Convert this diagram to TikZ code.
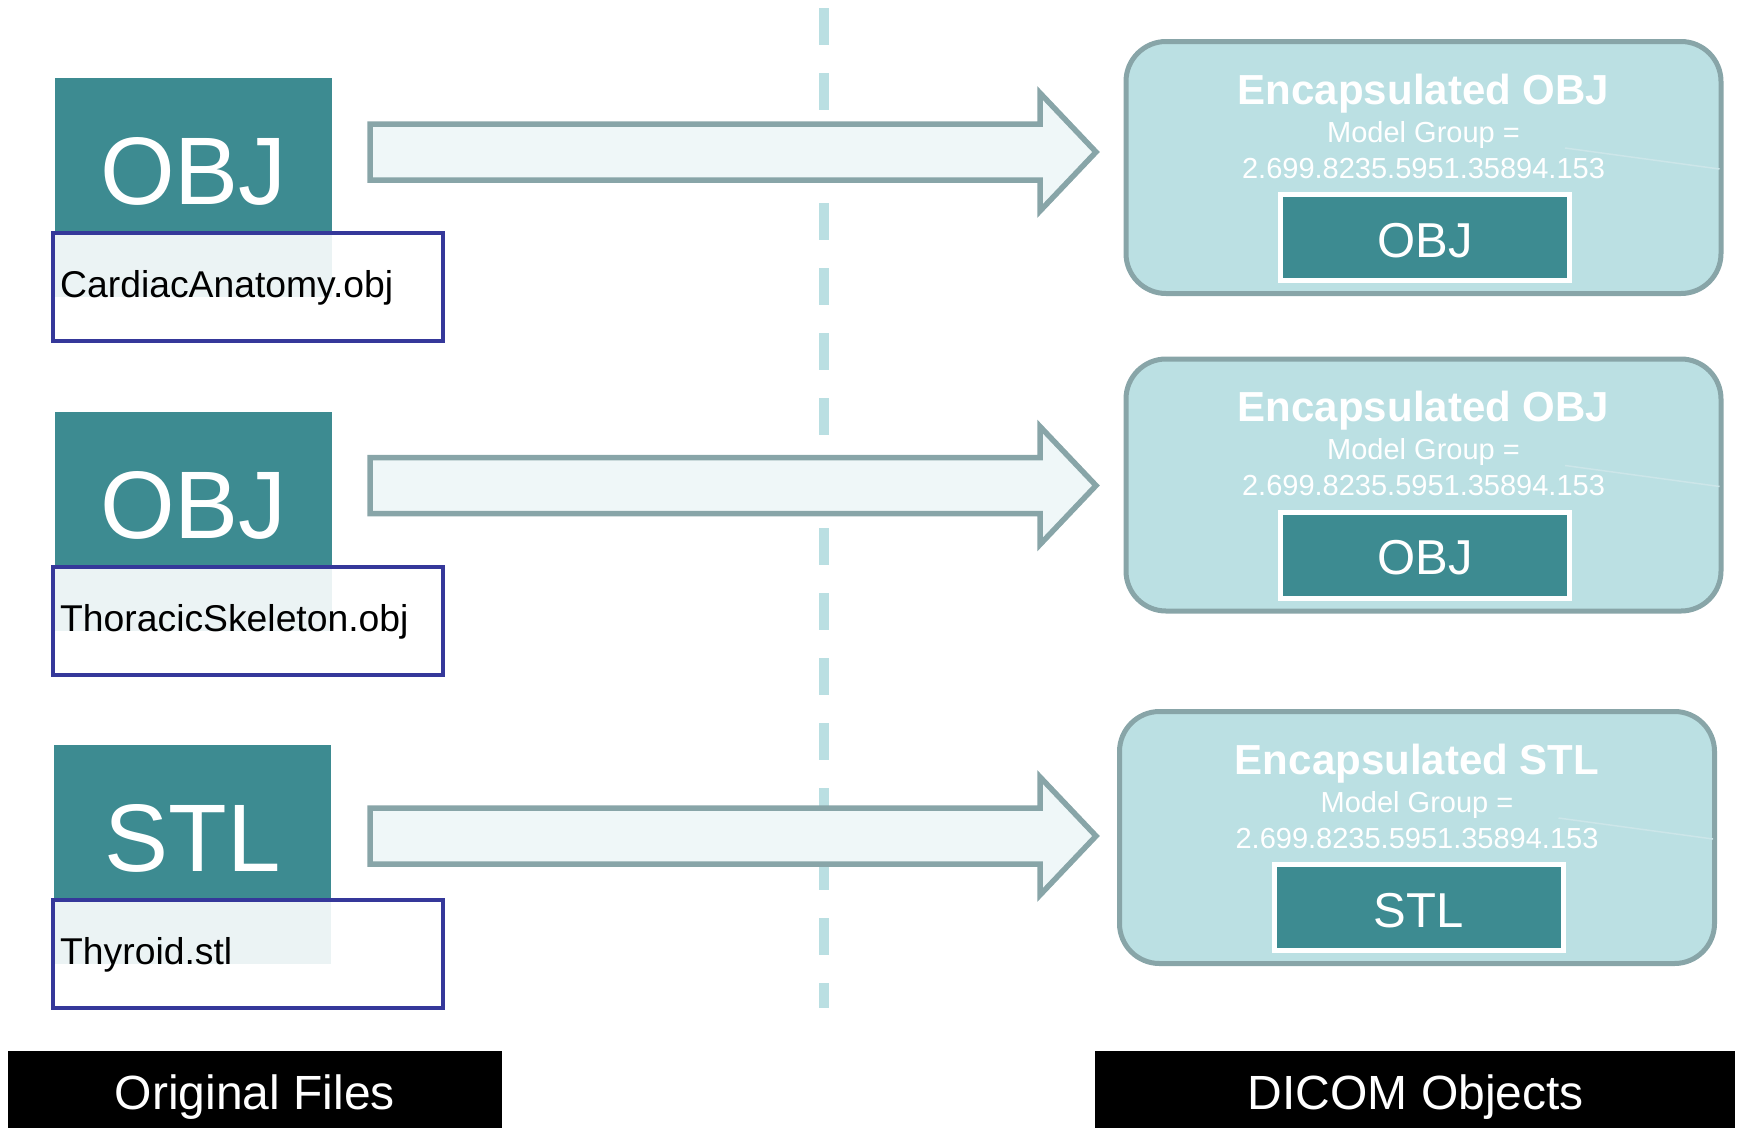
\documentclass[tikz,border=0pt]{standalone}
\usepackage{fontspec}
\setmainfont{Liberation Sans}
\usetikzlibrary{calc}
\definecolor{tealtile}{HTML}{3D8B91}
\definecolor{boxfill}{HTML}{BBE0E3}
\definecolor{boxline}{HTML}{88A5A8}
\definecolor{arrowfill}{HTML}{EFF7F8}
\definecolor{navyline}{HTML}{35389A}
\definecolor{divcolor}{HTML}{BADFE2}
\definecolor{faint}{HTML}{CCE6E9}
\begin{document}
\begin{tikzpicture}[x=1pt,y=-1pt,
  filetile/.style={fill=tealtile, inner sep=0pt, minimum width=277pt, minimum height=219pt},
  bigtype/.style={text=white, font=\fontsize{96}{96}\selectfont, anchor=base, inner sep=0pt},
  namebox/.style={draw=navyline, line width=4pt, fill=white, fill opacity=0.9, minimum width=390pt, minimum height=108pt, inner sep=0pt},
  nametext/.style={anchor=base west, font=\fontsize{37.3}{37.3}\selectfont, inner sep=0pt},
  dicombox/.style={draw=boxline, fill=boxfill, line width=5pt, rounded corners=40pt, minimum width=595pt, minimum height=252pt, inner sep=0pt},
  dicomtitle/.style={font=\bfseries\fontsize{42}{42}\selectfont, text=white, anchor=base, inner sep=0pt},
  dicomsub/.style={font=\fontsize{29}{29}\selectfont, text=white, anchor=base, inner sep=0pt},
  payload/.style={draw=white, fill=tealtile, line width=5pt, minimum width=289pt, minimum height=86pt, inner sep=0pt},
  payloadtext/.style={font=\fontsize{49}{49}\selectfont, text=white, anchor=base, inner sep=0pt},
  footer/.style={fill=black, inner sep=0pt, minimum height=77pt},
  footertext/.style={font=\fontsize{48}{48}\selectfont, text=white, anchor=base, inner sep=0pt},
  divider/.style={draw=divcolor, line width=10pt, dash pattern=on 37pt off 28pt},
  blockarrow/.pic={
    \draw[draw=boxline, fill=arrowfill, line width=5.5pt, line join=miter]
      (0,-28) -- (670,-28) -- (670,-59) -- (726,0) -- (670,59) -- (670,28) -- (0,28) -- cycle;
  }
]
\useasboundingbox (0,0) rectangle (1741,1128);

% dashed separator between the two columns
\coordinate (divtop) at (824,8);
\coordinate (divbot) at (824,1008);
\draw[divider] (divtop) -- (divbot);

% original files
\node[filetile] (tile1) at (193.5,187.5) {};
\node[bigtype] (tile1txt) at (193.5,204) {OBJ};
\node[namebox] (name1) at (248,287) {};
\node[nametext] (name1txt) at (60,297) {CardiacAnatomy.obj};

\node[filetile] (tile2) at (193.5,521.5) {};
\node[bigtype] (tile2txt) at (193.5,538) {OBJ};
\node[namebox] (name2) at (248,621) {};
\node[nametext] (name2txt) at (60,631) {ThoracicSkeleton.obj};

\node[filetile] (tile3) at (192.5,854.5) {};
\node[bigtype] (tile3txt) at (192.5,871) {STL};
\node[namebox] (name3) at (248,954) {};
\node[nametext] (name3txt) at (60,964) {Thyroid.stl};

% conversion arrows
\pic at (370,152) {blockarrow};
\pic at (370,485.5) {blockarrow};
\pic at (370,836) {blockarrow};

% DICOM objects
\foreach \id/\cx/\cy/\kind in {1/1423.5/167.5/OBJ, 2/1423.5/485/OBJ, 3/1417/837.5/STL}{
  \node[dicombox] (dcm\id) at (\cx,\cy) {};
  \draw[faint, line width=1.5pt] ($(dcm\id.center)+(141.5,-19.5)$) -- ($(dcm\id.center)+(296,1.5)$);
  \node[dicomtitle] (dcm\id title) at ($(dcm\id.center)+(0,-63.5)$) {Encapsulated \kind};
  \node[dicomsub] (dcm\id group) at ($(dcm\id.center)+(0,-25.5)$) {Model Group =};
  \node[dicomsub] (dcm\id uid) at ($(dcm\id.center)+(0,10.5)$) {2.699.8235.5951.35894.153};
  \node[payload] (dcm\id load) at ($(dcm\id.center)+(1.5,70)$) {};
  \node[payloadtext] (dcm\id loadtxt) at ($(dcm\id.center)+(1.5,89.5)$) {\kind};
}

% column captions
\node[footer, minimum width=494pt] (capleft) at (255,1089.5) {};
\node[footertext] (capleftxt) at (255,1109) {Original Files};
\node[footer, minimum width=640pt] (capright) at (1415,1089.5) {};
\node[footertext] (caprighttxt) at (1416,1109) {DICOM Objects};
\end{tikzpicture}
\end{document}
